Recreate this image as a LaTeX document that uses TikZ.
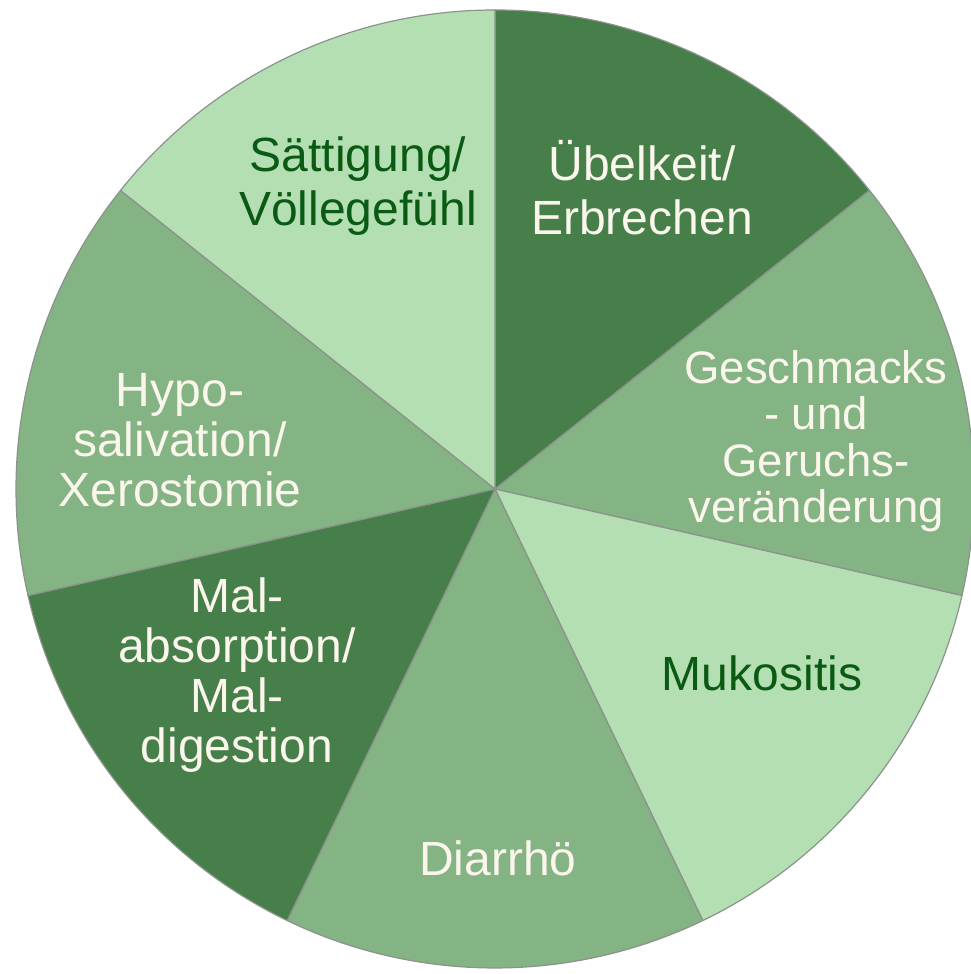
\documentclass[tikz,border=0pt]{standalone}
\usepackage{fontspec}
\setmainfont{Liberation Sans}
\definecolor{dk}{HTML}{477F4A}
\definecolor{md}{HTML}{84B384}
\definecolor{lt}{HTML}{B3DFB3}
\definecolor{wt}{HTML}{FBF6EC}
\definecolor{gt}{HTML}{0B5A14}
\definecolor{rim}{HTML}{8C928C}
\tikzset{
  lbl/.style={align=center, font=\fontsize{48}{54}\selectfont, inner sep=0pt},
  lblw/.style={lbl, text=wt},
  lbld/.style={lbl, text=gt},
  wedge/.style={draw=rim, line width=1.2pt, line join=round}
}
\newcommand{\wedgeat}[3]{%
  \filldraw[wedge, fill=#3] (c) -- ++(#1:479pt) arc[start angle=#1, end angle=#2, radius=479pt] -- cycle;}
\begin{document}
\begin{tikzpicture}
\useasboundingbox (0pt,0pt) rectangle (970pt,974pt);
\coordinate (c) at (495pt,485pt);
\wedgeat{90}{38.571}{dk}
\wedgeat{38.571}{-12.857}{md}
\wedgeat{-12.857}{-64.286}{lt}
\wedgeat{-64.286}{-115.714}{md}
\wedgeat{-115.714}{-167.143}{dk}
\wedgeat{-167.143}{-218.571}{md}
\wedgeat{141.429}{90}{lt}
\node[lblw] (ueb) at (642pt,786pt) {Übelkeit/\\Erbrechen};
\node[lbld] (saet) at (358pt,788pt) {Sättigung/\\Völlegefühl};
\node[lblw, font=\fontsize{45.5}{46.5}\selectfont] (gesch) at (816pt,533pt) {Geschmacks\\- und\\Geruchs-\\veränderung};
\node[lblw, font=\fontsize{48}{50}\selectfont] (hypo) at (180pt,534pt) {Hypo-\\salivation/\\Xerostomie};
\node[lblw, font=\fontsize{48}{50}\selectfont] (mal) at (237pt,299pt) {Mal-\\absorption/\\Mal-\\digestion};
\node[lbld] (muk) at (762pt,301pt) {Mukositis};
\node[lblw] (dia) at (498pt,116pt) {Diarrhö};
\end{tikzpicture}
\end{document}
